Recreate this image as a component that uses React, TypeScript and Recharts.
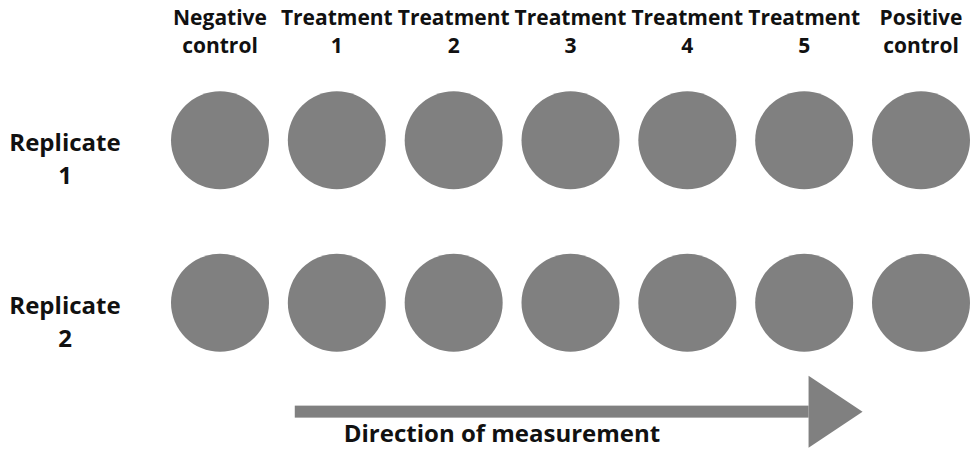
import React from 'react';
import { ScatterChart, Scatter, XAxis, YAxis, ReferenceLine } from 'recharts';

// column headers (two lines each), left to right
const columnLine1 = ['Negative', 'Treatment', 'Treatment', 'Treatment', 'Treatment', 'Treatment', 'Positive'];
const columnLine2 = ['control', '1', '2', '3', '4', '5', 'control'];

// rows
const replicateRows = [1, 2];
const replicateLabels = ['Replicate', 'Replicate'];
const replicateNumbers = ['1', '2'];

// arrow annotation, in axis units
const arrowStart = 0.64;
const arrowEnd = 5.5;
const arrowRow = 2.67;
const arrowText = 'Direction of measurement';

const wells = replicateRows.flatMap((row) => columnLine1.map((_, col) => ({ col, row })));

const FONT = '"Open Sans", "DejaVu Sans", sans-serif';

const ColumnTick = (props: any) => {
  const { x, y, payload } = props;
  const i = payload.value;
  return (
    <text x={x} y={y} textAnchor="middle" fontFamily={FONT} fontWeight={700} fontSize={21} fill="#111">
      <tspan x={x} y={y - 26}>{columnLine1[i]}</tspan>
      <tspan x={x} y={y + 2}>{columnLine2[i]}</tspan>
    </text>
  );
};

const RowTick = (props: any) => {
  const { x, y, payload } = props;
  const i = replicateRows.indexOf(payload.value);
  const cx = x - 147;
  return (
    <text x={cx} y={y} textAnchor="middle" fontFamily={FONT} fontWeight={700} fontSize={24} fill="#111">
      <tspan x={cx} y={y + 11}>{replicateLabels[i]}</tspan>
      <tspan x={cx} y={y + 44}>{replicateNumbers[i]}</tspan>
    </text>
  );
};

const Well = (props: any) => {
  const { cx, cy } = props;
  return <circle cx={cx} cy={cy} r={49} fill="#808080" />;
};

const Arrow = (props: any) => {
  const { x1, y1, x2 } = props;
  const headLen = 54;
  const headHalf = 36;
  const shaftHalf = 6;
  const base = x2 - headLen;
  return (
    <g>
      <rect x={x1} y={y1 - shaftHalf} width={base - x1} height={shaftHalf * 2} fill="#808080" />
      <polygon points={`${base},${y1 - headHalf} ${x2},${y1} ${base},${y1 + headHalf}`} fill="#808080" />
      <text x={x1 + 49} y={y1 + 30} fontFamily={FONT} fontWeight={700} fontSize={24} fill="#111">
        {arrowText}
      </text>
    </g>
  );
};

export default function App() {
  return (
    <div style={{ position: 'absolute', left: 0, top: 0, background: '#fff' }}>
      <ScatterChart width={971} height={449} margin={{ top: 0, right: 50, bottom: 0, left: 0 }}>
        <XAxis
          type="number"
          dataKey="col"
          orientation="top"
          domain={[0, 6]}
          ticks={[0, 1, 2, 3, 4, 5, 6]}
          height={59}
          axisLine={false}
          tickLine={false}
          tick={<ColumnTick />}
          interval={0}
        />
        <YAxis
          type="number"
          dataKey="row"
          domain={[0.5, 2.9]}
          ticks={replicateRows}
          reversed
          width={220}
          axisLine={false}
          tickLine={false}
          tick={<RowTick />}
          allowDataOverflow
        />
        <Scatter data={wells} shape={<Well />} isAnimationActive={false} />
        <ReferenceLine
          segment={[{ x: arrowStart, y: arrowRow }, { x: arrowEnd, y: arrowRow }]}
          shape={(p: any) => <Arrow {...p} />}
          ifOverflow="visible"
        />
      </ScatterChart>
    </div>
  );
}
